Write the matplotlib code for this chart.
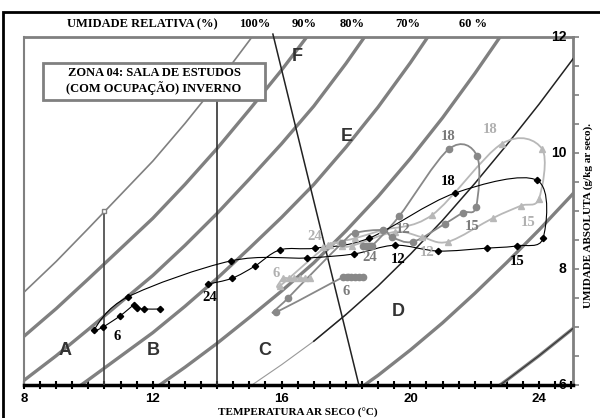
import numpy as np
import matplotlib
matplotlib.use("Agg")
import matplotlib.pyplot as plt
from matplotlib.path import Path
from matplotlib.patches import PathPatch, Rectangle

# saturation humidity of the chart (g/kg) at each integer temperature
SAT_T = [8, 9, 10, 11, 12, 13, 14, 15, 16, 17, 18, 19, 20, 21, 22, 23, 24, 25, 26]
SAT_W = [7.60, 8.13, 8.70, 9.28, 9.86, 10.51, 11.20, 11.94, 12.70, 13.51,
         14.43, 15.42, 16.51, 17.68, 18.95, 20.29, 21.69, 23.17, 24.70]
RH_THICK = [0.9, 0.8, 0.7, 0.6, 0.4, 0.3]
RH_TOP = ["100%", "90%", "80%", "70%", "60 %"]

# hourly data (1..24h)
black_t = [12.22, 11.73, 11.51, 11.42, 10.98, 10.45, 10.17, 11.23, 14.43, 16.79, 18.25, 19.52,
           20.86, 22.38, 23.31, 24.12, 23.93, 21.39, 18.71, 17.04, 15.95, 15.17, 14.46, 13.71]
black_w = [7.31, 7.31, 7.33, 7.38, 7.19, 7.00, 6.95, 7.52, 8.14, 8.19, 8.26, 8.41,
           8.31, 8.36, 8.40, 8.53, 9.53, 9.31, 8.53, 8.36, 8.33, 8.05, 7.84, 7.74]

dark_t = [18.53, 18.40, 18.28, 18.16, 18.03, 17.91, 15.83, 16.20, 17.88, 18.28, 19.15, 19.43,
          20.08, 21.07, 21.63, 22.04, 22.07, 21.20, 19.65, 18.81, 18.75, 18.68, 18.62, 18.53]
dark_w = [7.86, 7.86, 7.86, 7.86, 7.86, 7.86, 7.26, 7.50, 8.45, 8.62, 8.67, 8.55,
          8.47, 8.78, 8.97, 9.07, 9.95, 10.07, 8.91, 8.40, 8.40, 8.40, 8.40, 8.40]

light_t = [16.88, 16.72, 16.56, 16.40, 16.22, 16.04, 15.95, 17.44, 17.88, 18.19, 19.52, 20.36,
           21.17, 22.57, 23.43, 23.99, 24.09, 22.84, 20.67, 19.12, 18.28, 17.81, 17.50, 17.30]
light_w = [7.84, 7.84, 7.84, 7.84, 7.84, 7.84, 7.71, 8.41, 8.40, 8.40, 8.64, 8.55,
           8.47, 8.88, 9.09, 9.21, 10.07, 10.16, 8.93, 8.67, 8.53, 8.47, 8.41, 8.38]

LABEL_HOURS = [6, 12, 15, 18, 24]


def smooth_path(xs, ys):
    pts = np.column_stack([xs, ys])
    n = len(pts)
    verts = [pts[0]]
    codes = [Path.MOVETO]
    for i in range(n - 1):
        p0 = pts[i - 1] if i > 0 else pts[i]
        p1, p2 = pts[i], pts[i + 1]
        p3 = pts[i + 2] if i + 2 < n else pts[i + 1]
        verts += [p1 + (p2 - p0) / 6, p2 - (p3 - p1) / 6, p2]
        codes += [Path.CURVE4] * 3
    return Path(verts, codes)


fig = plt.figure(figsize=(6, 4.18), dpi=100)
ax = fig.add_axes([24 / 600, 33 / 418, 549 / 600, 348 / 418])
ax.set_xlim(8, 25.05)
ax.set_ylim(6, 12)

sat_t = np.array(SAT_T)
sat_w = np.array(SAT_W)
gray = "#808080"

# relative humidity curves
ax.plot(sat_t, sat_w, color=gray, lw=1.2, zorder=2)
for rh in RH_THICK:
    ax.plot(sat_t, rh * sat_w, color=gray, lw=2.4, zorder=2)
m50 = sat_t <= 18
ax.plot(sat_t[m50], 0.5 * sat_w[m50], color="#999999", lw=0.8, zorder=2)
m50b = sat_t >= 17
ax.plot(sat_t[m50b], 0.5 * sat_w[m50b], color="#222222", lw=1.1, zorder=3)
m30 = sat_t >= 22
ax.plot(sat_t[m30], 0.3 * sat_w[m30], color="#333333", lw=0.8, zorder=3)

# zone boundaries
ax.plot([10.5, 10.5], [6, 9.0], color="#444444", lw=1.2, zorder=3)
ax.plot([10.5], [9.0], marker="s", ms=3.5, mfc="white", mec=gray, zorder=4)
ax.plot([14.0, 14.0], [6, 10.9], color="#333333", lw=1.2, zorder=3)
ax.plot([15.73, 18.4], [12.05, 6], color="#222222", lw=1.1, zorder=3, clip_on=False)

# series
for t, w, col, mk, ms, lw in [(light_t, light_w, "#b8b8b8", "^", 4.5, 1.3),
                               (dark_t, dark_w, "#888888", "o", 4.5, 1.3),
                               (black_t, black_w, "black", "D", 3.2, 0.8)]:
    ax.add_patch(PathPatch(smooth_path(t, w), fill=False, ec=col, lw=lw, zorder=5))
    ax.plot(t, w, ls="none", marker=mk, ms=ms, color=col, zorder=6)

# hour labels: offsets (points) of the label centre from its point
label_font = dict(family="Liberation Serif", weight="bold", fontsize=10.5,
                  ha="center", va="center")
black_off = {6: (10, -7), 12: (2, -10), 15: (0, -11.5), 18: (-5, 8.6), 24: (1.5, -9.4)}
dark_off = {6: (2, -10), 12: (8, 5.8), 15: (7, -10), 18: (-0.7, 8.6), 24: (5, -8.6)}
light_off = {6: (-5, 3.6), 12: (3.6, -10.8), 15: (5, -12), 18: (-8.6, 10), 24: (-6.5, 7.2)}
for t, w, col, offs in [(black_t, black_w, "black", black_off),
                        (dark_t, dark_w, "#7a7a7a", dark_off),
                        (light_t, light_w, "#b0b0b0", light_off)]:
    for h in LABEL_HOURS:
        ax.annotate(str(h), (t[h - 1], w[h - 1]), xytext=offs[h], textcoords="offset points",
                    color=col, zorder=7, **label_font)

# zone letters
zone_font = dict(family="Liberation Sans", weight="bold", fontsize=13, color="#333333",
                 ha="center", va="center", zorder=4)
for name, t, w in [("A", 9.27, 6.60), ("B", 12.0, 6.60), ("C", 15.48, 6.60),
                   ("D", 19.61, 7.26), ("E", 18.03, 10.28), ("F", 16.5, 11.66)]:
    ax.text(t, w, name, **zone_font)

# spines and ticks
for s in ["left", "top", "right"]:
    ax.spines[s].set_color(gray)
    ax.spines[s].set_linewidth(2)
ax.spines["left"].set_linewidth(1.5)
ax.spines["bottom"].set_linewidth(2.5)
ax.set_xticks([8, 12, 16, 20, 24])
ax.set_xticks(np.arange(8, 25.01, 0.5), minor=True)
ax.tick_params(axis="x", which="both", direction="inout", length=6, width=1.5, pad=2.5,
               labelsize=9.5)
for lab in ax.get_xticklabels():
    lab.set_fontfamily("Liberation Sans")
    lab.set_fontweight("bold")
ax.yaxis.tick_right()
ax.set_yticks(np.arange(6, 12.01, 0.5))
ax.tick_params(axis="y", direction="out", length=4, width=1.2, color=gray, labelright=False)
for v in [6, 8, 10, 12]:
    ax.text(24.85, v, str(v), ha="right", va="center", fontsize=10, fontweight="bold",
            family="Liberation Sans", zorder=8)

# title box
fig.patches.append(Rectangle((43 / 600, 1 - 100 / 418), 222 / 600, 37 / 418,
                             transform=fig.transFigure, fc="white", ec=gray, lw=2, zorder=3))
fig.text(154 / 600, 1 - 81 / 418, "ZONA 04: SALA DE ESTUDOS\n(COM OCUPAÇÃO) INVERNO",
         ha="center", va="center", family="Liberation Serif", weight="bold", fontsize=9,
         linespacing=1.25, zorder=4)

# outer frame
fig.patches.append(Rectangle((3 / 600, -0.1), 1.2, 1.1 - 12 / 418, transform=fig.transFigure,
                             fill=False, ec="black", lw=2))

serif = dict(family="Liberation Serif", weight="bold")
fig.text(142 / 600, 1 - 24 / 418, "UMIDADE RELATIVA (%)", ha="center", va="center",
         fontsize=9, **serif)
for lab, x in zip(RH_TOP, [255, 304, 352, 408, 473]):
    fig.text(x / 600, 1 - 24 / 418, lab, ha="center", va="center", fontsize=9, **serif)
fig.text(588 / 600, 1 - 215 / 418, "UMIDADE ABSOLUTA (g/kg ar seco).", rotation=90,
         ha="center", va="center", fontsize=8, **serif)
fig.text(298 / 600, 2 / 418, "TEMPERATURA AR SECO (°C)", ha="center", va="baseline",
         fontsize=8, **serif)

fig.savefig("out.png", dpi=100)
